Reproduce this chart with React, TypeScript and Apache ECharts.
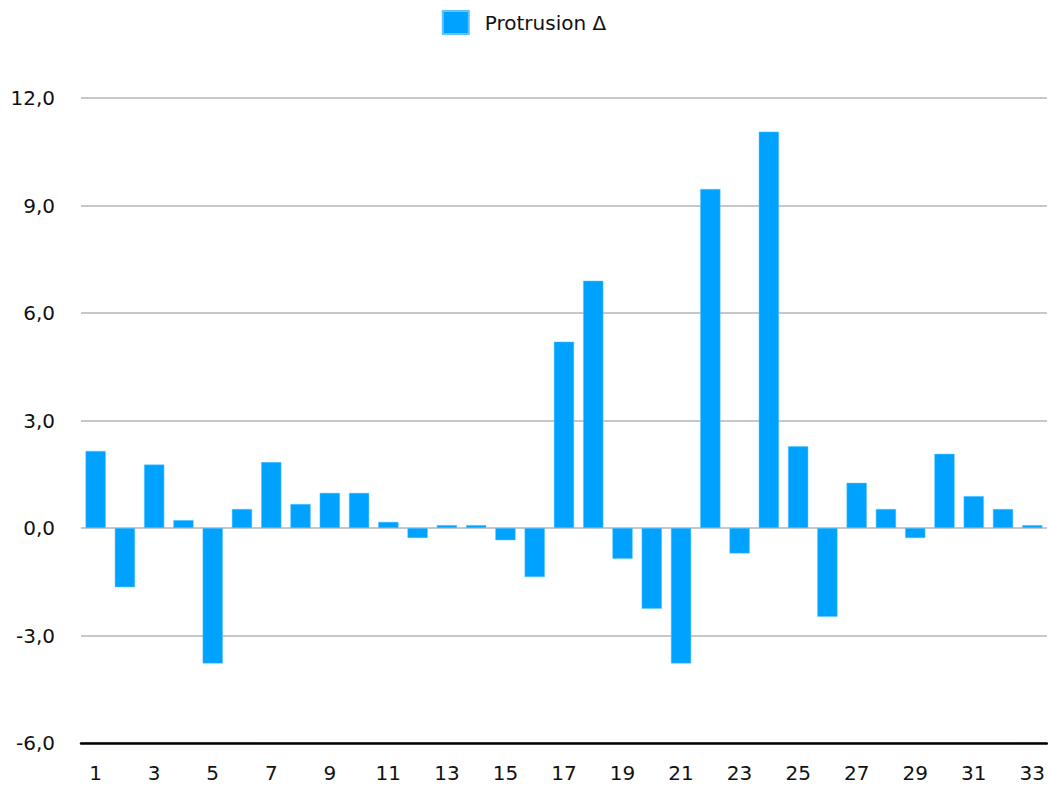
import React, { useEffect, useRef } from "react";
import * as echarts from "echarts";

const categories: string[] = Array.from({ length: 33 }, (_, i) => String(i + 1));
const seriesName = "Protrusion Δ";
const values: number[] = [
  2.15, -1.65, 1.77, 0.22, -3.78, 0.53, 1.84, 0.67, 0.98, 0.98, 0.17,
  -0.28, 0.08, 0.08, -0.34, -1.37, 5.2, 6.9, -0.86, -2.25, -3.78, 9.46,
  -0.71, 11.06, 2.28, -2.48, 1.26, 0.53, -0.28, 2.07, 0.89, 0.53, 0.08,
];
const yMin = -6;
const yMax = 12;
const yStep = 3;

export default function App() {
  const ref = useRef<HTMLDivElement>(null);
  useEffect(() => {
    if (!ref.current) return;
    const chart = echarts.init(ref.current, undefined, { renderer: "svg" });
    const font = "DejaVu Sans";
    chart.setOption({
      animation: false,
      backgroundColor: "#ffffff",
      legend: {
        show: true,
        top: 5,
        left: "center",
        itemWidth: 26,
        itemHeight: 23,
        icon: "rect",
        data: [seriesName],
        textStyle: {
          fontFamily: font,
          fontSize: 20,
          color: "#111",
          padding: [0, 0, 0, 11],
        },
      },
      grid: { left: 81, right: 0, top: 98, bottom: 43, containLabel: false },
      xAxis: {
        type: "category",
        data: categories,
        axisLine: { onZero: false, lineStyle: { color: "#000", width: 2.5 } },
        axisTick: { show: false },
        axisLabel: {
          interval: 1,
          margin: 20,
          fontFamily: font,
          fontSize: 20,
          color: "#111",
        },
        splitLine: { show: false },
      },
      yAxis: {
        type: "value",
        min: yMin,
        max: yMax,
        interval: yStep,
        axisLine: { show: false },
        axisTick: { show: false },
        axisLabel: {
          margin: 26,
          fontFamily: font,
          fontSize: 20,
          color: "#111",
          formatter: (v: number) => v.toFixed(1).replace(".", ","),
        },
        splitLine: { lineStyle: { color: "#b4b4b4", width: 1.5 } },
      },
      series: [
        {
          name: seriesName,
          type: "bar",
          data: values,
          barCategoryGap: "31%",
          itemStyle: { color: "#00a2ff", borderColor: "#5cc4ff", borderWidth: 0.5 },
        },
      ],
    });
    return () => chart.dispose();
  }, []);
  return (
    <div
      ref={ref}
      style={{ position: "fixed", left: 0, top: 0, width: 1048, height: 786 }}
    />
  );
}
